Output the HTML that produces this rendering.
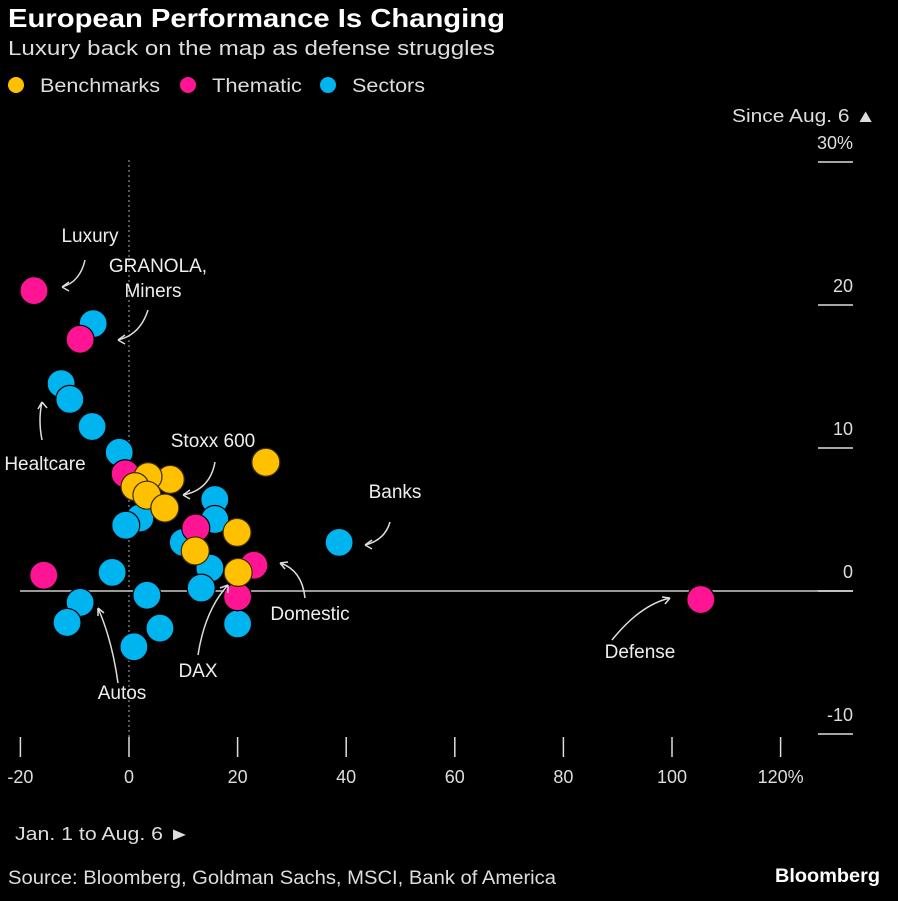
<!DOCTYPE html>
<html><head><meta charset="utf-8"><style>
body{margin:0;background:#000;width:898px;height:901px;overflow:hidden;font-family:"Liberation Sans",sans-serif;color:#fff}
svg{position:absolute;left:0;top:0}
</style></head><body>
<svg width="898" height="901" id="c">
<text x="8" y="27" font-size="26" font-weight="bold" fill="#fff" textLength="497" lengthAdjust="spacingAndGlyphs">European Performance Is Changing</text>
<text x="8" y="55" font-size="20" fill="#ddd" textLength="487" lengthAdjust="spacingAndGlyphs">Luxury back on the map as defense struggles</text>
<g font-size="19" fill="#ddd">
<circle cx="16" cy="85" r="8" fill="#ffc000"/><text x="40" y="92" textLength="120" lengthAdjust="spacingAndGlyphs">Benchmarks</text>
<circle cx="188" cy="85" r="8" fill="#ff1493"/><text x="212" y="92" textLength="90" lengthAdjust="spacingAndGlyphs">Thematic</text>
<circle cx="328" cy="85" r="8" fill="#00b4f0"/><text x="352" y="92" textLength="73" lengthAdjust="spacingAndGlyphs">Sectors</text>
</g>
<text x="732" y="122" font-size="18" fill="#ddd" textLength="144" lengthAdjust="spacingAndGlyphs">Since Aug. 6 ▲</text>
<text x="15" y="840" font-size="18" fill="#ddd" textLength="175" lengthAdjust="spacingAndGlyphs">Jan. 1 to Aug. 6 ►</text>
<text x="8" y="884" font-size="19" fill="#ddd" textLength="548" lengthAdjust="spacingAndGlyphs">Source: Bloomberg, Goldman Sachs, MSCI, Bank of America</text>
<text x="775" y="882" font-size="19" font-weight="bold" fill="#fff" textLength="105" lengthAdjust="spacingAndGlyphs">Bloomberg</text>
<g id="axes"></g><g id="marks"></g><g id="ann" fill="none" stroke="#ddd" stroke-width="1.5"></g>
</svg>
<script>
const xTicks=[-20,0,20,40,60,80,100,120];
const yTicks=[30,20,10,0,-10];
const benchX=[25.2,7.6,3.5,1.1,3.3,6.6,19.9,12.2,20.1];
const benchY=[9.0,7.8,8.0,7.3,6.7,5.8,4.1,2.8,1.3];
const themX=[-17.5,-9.0,-0.7,12.3,23.0,20.0,-15.7,105.3];
const themY=[21.0,17.6,8.2,4.4,1.8,-0.4,1.1,-0.6];
const secX=[-6.6,-12.5,-10.9,-6.8,-1.8,15.8,15.8,2.0,-0.6,10.0,14.9,13.3,-3.1,3.3,-9.0,-11.4,5.7,0.9,20.0,38.7];
const secY=[18.7,14.5,13.4,11.5,9.7,6.4,5.0,5.1,4.6,3.4,1.6,0.2,1.3,-0.3,-0.8,-2.2,-2.6,-3.9,-2.3,3.4];
const sx=v=>129+v*5.43, sy=v=>591-v*14.3;
const NS="http://www.w3.org/2000/svg";
function mk(t,a,p){const e=document.createElementNS(NS,t);for(const k in a)e.setAttribute(k,a[k]);p.appendChild(e);return e;}
const ax=document.getElementById('axes');
let zl=mk('line',{x1:20,x2:853,y1:sy(0),y2:sy(0),stroke:'#ccc','stroke-width':1.5},ax);


let vl=mk('line',{x1:sx(0),x2:sx(0),y1:160,y2:750,stroke:'#aaa','stroke-width':1,'stroke-dasharray':'2,3'},ax);


xTicks.forEach(v=>{
 let l=mk('line',{x1:sx(v),x2:sx(v),y1:737,y2:757,stroke:'#ddd','stroke-width':1.5},ax);
 
 
 let t=mk('text',{x:sx(v),y:783,'font-size':18,fill:'#ddd','text-anchor':'middle'},ax);
 t.textContent=v===120?'120%':String(v);
 
 
});
yTicks.forEach(v=>{
 let l=mk('line',{x1:818,x2:853,y1:sy(v),y2:sy(v),stroke:'#ddd','stroke-width':1.5},ax);
 
 
 let t=mk('text',{x:853,y:sy(v)-13,'font-size':18,fill:'#ddd','text-anchor':'end'},ax);
 t.textContent=v===30?'30%':String(v);
 
 
});
const mg=document.getElementById('marks');
function draw(X,Y,col,name,stroke){X.forEach((x,i)=>{
 let c=mk('circle',{cx:sx(x),cy:sy(Y[i]),r:14,fill:col,stroke:stroke,'stroke-width':1.2},mg);
 
 
});}
draw(secX,secY,'#00b4f0','sector-point','#000');
draw(themX,themY,'#ff1493','thematic-point','#000');
draw(benchX,benchY,'#ffc000','benchmark-point','#3a2a00');
const an=document.getElementById('ann');
const labels=[["Luxury",90,242],["GRANOLA,",158,272],["Miners",153,297],["Healtcare",45,470],["Stoxx 600",213,447],["Banks",395,498],["Domestic",310,620],["Defense",640,658],["DAX",198,677],["Autos",122,699]];
labels.forEach(l=>{let t=mk('text',{x:l[1],y:l[2],'font-size':19,fill:'#eee',stroke:'none','text-anchor':'middle'},an);t.textContent=l[0];
 
 });
const arrows=["M85,260 Q80,282 62,287 M62,287 l7,-5 M62,287 l7,4","M148,310 Q140,335 118,340 M118,340 l7,-5 M118,340 l7,4","M42,440 Q38,420 42,402 M42,402 l-4,7 M42,402 l5,6","M215,462 Q210,490 183,495 M183,495 l7,-5 M183,495 l7,4","M390,522 Q385,540 365,545 M365,545 l7,-5 M365,545 l7,4","M305,598 Q302,570 280,563 M280,563 l5,6 M280,563 l8,-1","M612,640 Q640,605 670,598 M670,598 l-8,-1 M670,598 l-5,6","M198,655 Q205,610 228,585 M228,585 l-8,3 M228,585 l0,8","M118,683 Q112,640 98,608 M98,608 l0,8 M98,608 l6,5"];
arrows.forEach(d=>{let p=mk('path',{d:d},an);
 
 });
</script>
</body></html>
